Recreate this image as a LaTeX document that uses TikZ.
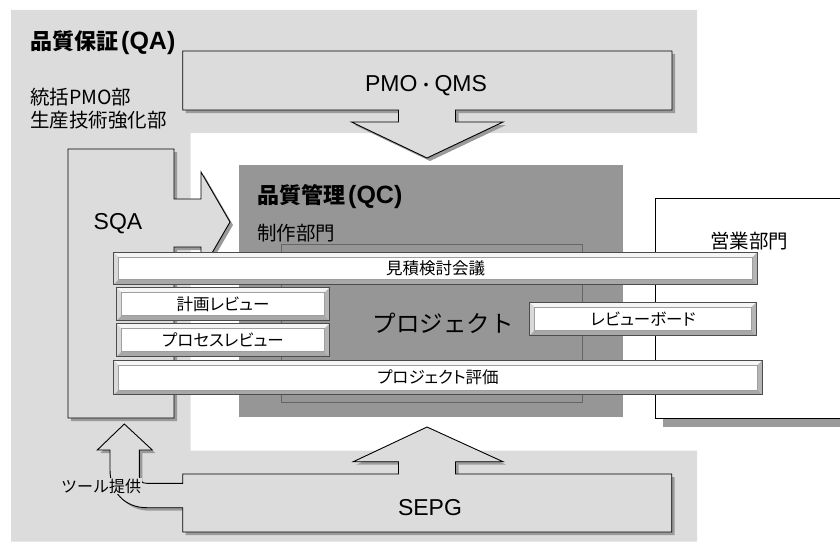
\documentclass[tikz,border=0pt]{standalone}
\usepackage{fontspec}
\setmainfont{Liberation Sans}
\newfontfamily\jp{Noto Sans CJK JP}
\newfontfamily\jpp[RawFeature=+palt]{Noto Sans CJK JP}
\definecolor{qagray}{HTML}{DCDCDC}
\definecolor{qcgray}{HTML}{969696}
\definecolor{shadowgray}{HTML}{9A9A9A}
\newcommand\bevelon[1]{%
  \fill[gray!8] (#1.north west) -- (#1.north east) -- ([shift={(-4.5pt,-4.5pt)}]#1.north east) -- ([shift={(4.5pt,-4.5pt)}]#1.north west) -- cycle;
  \fill[gray!30] (#1.north west) -- ([shift={(4.5pt,-4.5pt)}]#1.north west) -- ([shift={(4.5pt,4.5pt)}]#1.south west) -- (#1.south west) -- cycle;
  \fill[gray!68] (#1.south west) -- (#1.south east) -- ([shift={(-4.5pt,4.5pt)}]#1.south east) -- ([shift={(4.5pt,4.5pt)}]#1.south west) -- cycle;
  \fill[gray!58] (#1.north east) -- (#1.south east) -- ([shift={(-4.5pt,4.5pt)}]#1.south east) -- ([shift={(-4.5pt,-4.5pt)}]#1.north east) -- cycle;
  \draw[black!70, line width=0.8pt] (#1.north west) rectangle (#1.south east);
  \draw[gray!75, line width=0.6pt] ([shift={(4.5pt,-4.5pt)}]#1.north west) rectangle ([shift={(-4.5pt,4.5pt)}]#1.south east);
}
\begin{document}
\begin{tikzpicture}[x=1pt,y=-1pt,
  outl/.style={draw=black, line width=0.9pt, fill=qagray},
  shad/.style={fill=shadowgray},
  bar/.style={rectangle, fill=white, inner sep=0pt, font=\jpp\fontsize{16.5}{19}\selectfont},
  jptext/.style={inner sep=0pt, font=\jp\fontsize{19.5}{23}\selectfont},
  titletext/.style={inner sep=0pt, anchor=west, font=\bfseries\fontsize{25}{29}\selectfont},
  latin/.style={inner sep=0pt, font=\fontsize{23}{27}\selectfont}]
\useasboundingbox (0,0) rectangle (840,543);
% QA background
\fill[qagray] (11,10) -- (697,10) -- (697,133) -- (190.5,133) -- (190.5,450.5) -- (697,450.5) -- (697,541.5) -- (11,541.5) -- cycle;
\node[titletext] (qa) at (30,43) {{\jp\bfseries\fontsize{22}{26}\selectfont 品質保証}\kern3pt(QA)};
\node[jptext, anchor=west] (tokatsu) at (30,97) {{\jp 統括}PMO{\jp 部}};
\node[jptext, anchor=west] (seisan) at (30,120) {生産技術強化部};
% PMO QMS shape
\def\pmoshape{(182.7,51) -- (672,51) -- (672,110) -- (455.5,110) -- (455.5,122) -- (503,122) -- (427,158) -- (351.5,122) -- (398.5,122) -- (398.5,110) -- (182.7,110) -- cycle}
\fill[shad, shift={(3,3)}] \pmoshape;
\path[outl] \pmoshape;
\node[latin, anchor=base] (pmo) at (426,92) {PMO{\jp\fontsize{17}{20}\selectfont ・}QMS};
% QC box
\fill[qcgray] (239,165) rectangle (622.7,417);
\node[titletext] (qc) at (257,197) {{\jp\bfseries\fontsize{22}{26}\selectfont 品質管理}\kern3pt(QC)};
\node[jptext, anchor=west] (seisaku) at (257,233) {制作部門};
\draw[black!60, line width=0.7pt] (281,244) rectangle (582,402);
\node[inner sep=0pt, font=\jp\fontsize{23.5}{27}\selectfont] (proj) at (443,323) {プロジェクト};
% sales box
\fill[shad] (663,206) rectangle (860,427);
\draw[line width=0.9pt, fill=white] (655,198) rectangle (860,418);
\node[jptext] (eigyo) at (749,241) {営業部門};
% SQA shape
\def\sqashape{(68,149) -- (174,149) -- (174,199) -- (201,199) -- (201,172) -- (230,222) -- (201,272) -- (201,247) -- (174,247) -- (174,418) -- (68,418) -- cycle}
\fill[shad, shift={(3,3)}] \sqashape;
\path[outl] \sqashape;
\node[latin, anchor=base] (sqa) at (118,229) {SQA};
% SEPG shape with tool arrow
\def\sepgshape{(182.7,474) -- (398.5,474) -- (398.5,461.7) -- (353.3,461.7) -- (427,427) -- (503,461.7) -- (455.5,461.7) -- (455.5,474) -- (671.7,474) -- (671.7,532) -- (182.7,532) -- (182.7,507.7) -- (146.7,507.7) .. controls (125,507.7) and (110,492) .. (110,470) -- (110,450) -- (97.3,450) -- (124.3,424) -- (152.3,450) -- (139.3,450) -- (139.3,476) .. controls (139.3,481) and (142,483.3) .. (146.7,483.3) -- (182.7,483.3) -- cycle}
\fill[shad, shift={(3,3)}] \sepgshape;
\path[outl] \sepgshape;
\node[latin, anchor=base] (sepg) at (430,515) {SEPG};
\node[inner sep=1pt, fill=qagray, font=\jp\fontsize{16}{19}\selectfont] (tool) at (101,486) {ツール提供};
% bars
\node[bar, minimum width=643pt, minimum height=31.5pt] (b1) at (435.5,268.25) {見積検討会議};
\bevelon{b1}
\node[bar, minimum width=212pt, minimum height=32pt] (b2) at (223,304) {計画レビュー};
\bevelon{b2}
\node[bar, minimum width=212pt, minimum height=32pt] (b3) at (223,340) {プロセスレビュー};
\bevelon{b3}
\node[bar, minimum width=226pt, minimum height=32.3pt] (b4) at (643,318.85) {レビューボード};
\bevelon{b4}
\node[bar, minimum width=648pt, minimum height=34pt] (b5) at (438,377.5) {プロジェクト評価};
\bevelon{b5}
\end{tikzpicture}
\end{document}
